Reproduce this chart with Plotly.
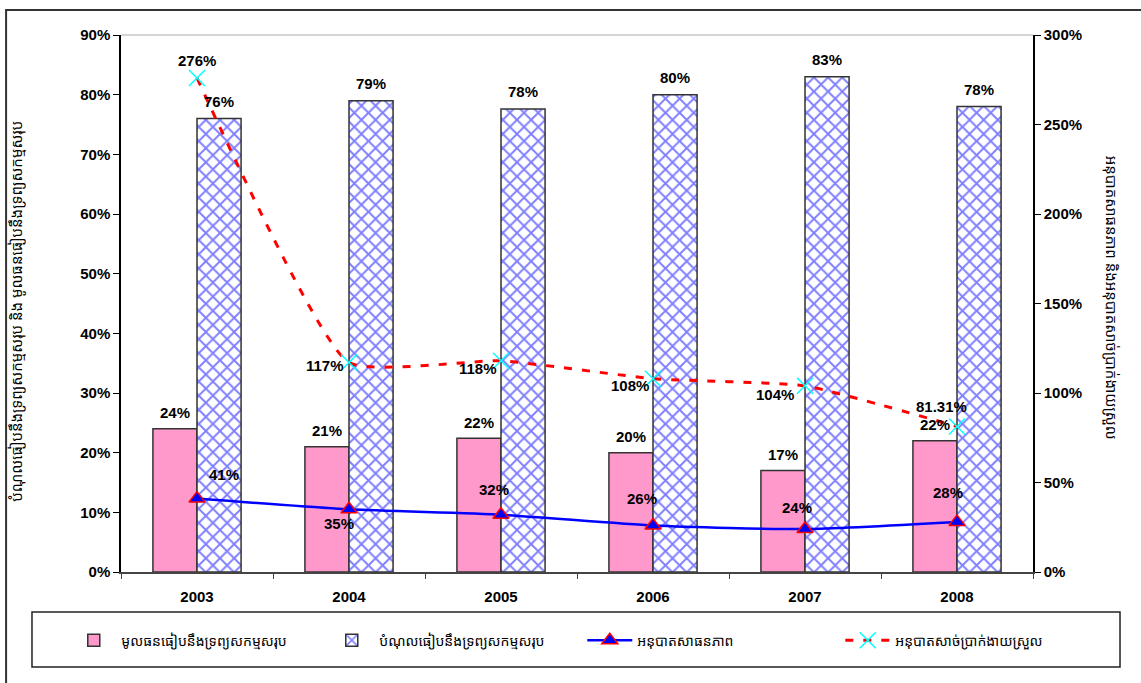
import plotly.graph_objects as go

# Data
years = ["2003", "2004", "2005", "2006", "2007", "2008"]
equity_to_assets = [24, 21, 22.4, 20, 17, 22]          # %
debt_to_assets = [76, 79, 77.6, 80, 83, 78]            # %
solvency_ratio = [41, 35, 32, 26, 24, 28]              # % (right axis)
liquidity_ratio = [276, 117, 118, 108, 104, 81.31]     # % (right axis)

name_equity = "មូលធនធៀបនឹងទ្រព្យសកម្មសរុប"
name_debt = "បំណុលធៀបនឹងទ្រព្យសកម្មសរុប"
name_solv = "អនុបាតសាធនភាព"
name_liq = "អនុបាតសាច់ប្រាក់ងាយស្រួល"
left_title = "បំណុលធៀបនឹងទ្រព្យសកម្មសរុប និង មូលធនធៀបនឹងទ្រព្យសកម្មសរុប"
right_title = "អនុបាតសាធនភាព និងអនុបាតសាច់ប្រាក់ងាយស្រួល"

left_ticks = list(range(0, 91, 10))
right_ticks = list(range(0, 301, 50))

# label offsets (pixels) for line labels
solv_dx = [27, -10, -7, -11, -8, -9]
solv_dy = [24, -14, 25, 27, 22, 29]
liq_dx = [0, -24, -23, -23, -30, -16]
liq_dy = [17, -3, -8, -7, -9, 20]

label_font = dict(family="Liberation Sans, Arial, sans-serif", size=15,
                  color="black", weight="bold")
khmer_font = "Noto Sans Khmer, Khmer OS, Noto Sans, DejaVu Sans, sans-serif"
tick_font = dict(family="Liberation Sans, Arial, sans-serif", size=15,
                 color="black", weight="bold")

fig = go.Figure()

fig.add_trace(go.Bar(
    x=years, y=equity_to_assets, name=name_equity,
    marker=dict(color="#ff99cc", line=dict(color="#333333", width=1.5)),
    yaxis="y",
))
fig.add_trace(go.Bar(
    x=years, y=debt_to_assets, name=name_debt,
    marker=dict(color="white", line=dict(color="#333333", width=1.5),
                pattern=dict(shape="x", fgcolor="#0000ff", bgcolor="white",
                             size=10, solidity=0.35)),
    yaxis="y",
))
fig.add_trace(go.Scatter(
    x=years, y=solvency_ratio, name=name_solv, yaxis="y2",
    mode="lines+markers",
    line=dict(color="#0000ff", width=2.5, shape="spline", smoothing=0.6),
    marker=dict(symbol="triangle-up", size=14, color="#0000ff",
                line=dict(color="#ff0000", width=1.5)),
))
fig.add_trace(go.Scatter(
    x=years, y=liquidity_ratio, name=name_liq, yaxis="y2",
    mode="lines+markers",
    line=dict(color="#ff0000", width=3, dash="8px,10px", shape="spline", smoothing=0.45),
    marker=dict(symbol="x-thin", size=16, color="#00ffff",
                line=dict(color="#00ffff", width=1.5)),
))

annotations = []
# bar value labels (x given as category index)
for i, v in enumerate(equity_to_assets):
    annotations.append(dict(x=i, y=v, xref="x", yref="y", text=f"{v:.0f}%",
                            showarrow=False, xshift=-22, yshift=16, font=label_font))
for i, v in enumerate(debt_to_assets):
    annotations.append(dict(x=i, y=v, xref="x", yref="y", text=f"{v:.0f}%",
                            showarrow=False, xshift=22, yshift=17, font=label_font))
# line value labels
for i, (v, dx, dy) in enumerate(zip(solvency_ratio, solv_dx, solv_dy)):
    annotations.append(dict(x=i, y=v, xref="x", yref="y2", text=f"{v:.0f}%",
                            showarrow=False, xshift=dx, yshift=dy, font=label_font))
for i, (v, dx, dy) in enumerate(zip(liquidity_ratio, liq_dx, liq_dy)):
    txt = f"{v:.0f}%" if float(v).is_integer() else f"{v:.2f}%"
    annotations.append(dict(x=i, y=v, xref="x", yref="y2", text=txt,
                            showarrow=False, xshift=dx, yshift=dy, font=label_font))
# axis titles
annotations.append(dict(x=-0.116, y=0.485, xref="paper", yref="paper", text=left_title,
                        textangle=-90, showarrow=False, xanchor="center", yanchor="middle",
                        font=dict(family=khmer_font, size=15, color="black")))
annotations.append(dict(x=1.087, y=0.51, xref="paper", yref="paper", text=right_title,
                        textangle=90, showarrow=False, xanchor="center", yanchor="middle",
                        font=dict(family=khmer_font, size=15, color="black")))

fig.update_layout(
    width=1141, height=683,
    margin=dict(l=121, r=108, t=35, b=111),
    paper_bgcolor="white", plot_bgcolor="white",
    barmode="group", bargap=0.42, bargroupgap=0,
    showlegend=True,
    legend=dict(orientation="h", x=-0.06, y=-0.098, xanchor="left", yanchor="top",
                borderwidth=0, bgcolor="rgba(0,0,0,0)",
                font=dict(family=khmer_font, size=14, color="black"),
                entrywidth=198, entrywidthmode="pixels",
                itemwidth=45, tracegroupgap=0),
    xaxis=dict(type="category", range=[-0.5, len(years) - 0.5],
               showline=True, linecolor="#444444", linewidth=1.5,
               ticks="outside", tickson="boundaries", ticklen=5, tickcolor="#444444",
               ticklabelstandoff=10,
               showgrid=False, zeroline=False, tickfont=tick_font),
    yaxis=dict(range=[0, 90], tickvals=left_ticks,
               ticktext=[f"{t}%" for t in left_ticks],
               showline=True, linecolor="black", linewidth=1.5,
               ticks="outside", ticklen=6, tickcolor="black",
               showgrid=False, zeroline=False, tickfont=tick_font),
    yaxis2=dict(range=[0, 300], tickvals=right_ticks,
                ticktext=[f"{t}%" for t in right_ticks],
                overlaying="y", side="right",
                showline=True, linecolor="black", linewidth=1.5,
                ticks="outside", ticklen=6, tickcolor="black",
                showgrid=False, zeroline=False, tickfont=tick_font),
    annotations=annotations,
    shapes=[
        # faint top edge of the plot area
        dict(type="line", xref="paper", yref="paper", x0=0, x1=1, y0=1, y1=1,
             line=dict(color="#aaaaaa", width=1)),
        # outer chart frame
        dict(type="rect", xref="paper", yref="paper", x0=-0.126, x1=1.3,
             y0=-0.4, y1=1.0466, line=dict(color="#333333", width=2),
             layer="below"),
        # legend frame
        dict(type="rect", xref="paper", yref="paper", x0=-0.0976, x1=1.0954,
             y0=-0.1769, y1=-0.0745, line=dict(color="#222222", width=1.5),
             fillcolor="white", layer="below"),
    ],
)

fig.write_html("out.html")
